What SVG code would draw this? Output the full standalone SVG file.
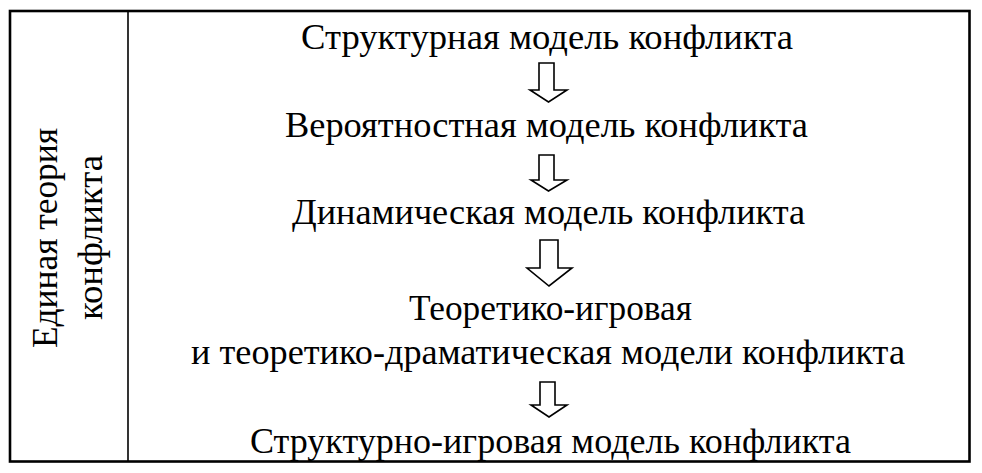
<svg xmlns="http://www.w3.org/2000/svg" width="982" height="473" viewBox="0 0 982 473" font-family="Liberation Serif, serif">
<defs>
  <path id="arrow-small" d="M0,0 H15 V27 H28 L9.5,39 L-9,27 H0 Z"/>
</defs>
<rect width="982" height="473" fill="#fff"/>
<g id="frame" fill="none" stroke="#000">
  <rect x="10" y="11" width="959.5" height="450.5" stroke-width="2.6"/>
  <line x1="128" y1="11" x2="128" y2="461.5" stroke-width="1.6"/>
</g>
<g id="side-label">
  <text style="font-family:'Liberation Serif',serif" font-size="36" x="0" y="0" textLength="220" lengthAdjust="spacingAndGlyphs" transform="translate(57,348) rotate(-90)">Единая теория</text>
  <text style="font-family:'Liberation Serif',serif" font-size="36" x="0" y="0" textLength="165" lengthAdjust="spacingAndGlyphs" transform="translate(102,320) rotate(-90)">конфликта</text>
</g>
<g id="node1"><text style="font-family:'Liberation Serif',serif" font-size="36" x="301" y="49" textLength="492" lengthAdjust="spacingAndGlyphs">Структурная модель конфликта</text></g>
<g id="node2"><text style="font-family:'Liberation Serif',serif" font-size="36" x="285" y="137" textLength="523" lengthAdjust="spacingAndGlyphs">Вероятностная модель конфликта</text></g>
<g id="node3"><text style="font-family:'Liberation Serif',serif" font-size="36" x="292" y="224" textLength="513" lengthAdjust="spacingAndGlyphs">Динамическая модель конфликта</text></g>
<g id="node4">
  <text style="font-family:'Liberation Serif',serif" font-size="36" x="409" y="320" textLength="283" lengthAdjust="spacingAndGlyphs">Теоретико-игровая</text>
  <text style="font-family:'Liberation Serif',serif" font-size="36" x="191" y="364" textLength="714" lengthAdjust="spacingAndGlyphs">и теоретико-драматическая модели конфликта</text>
</g>
<g id="node5"><text style="font-family:'Liberation Serif',serif" font-size="36" x="250" y="453" textLength="601" lengthAdjust="spacingAndGlyphs">Структурно-игровая модель конфликта</text></g>
<g id="connectors" fill="#fff" stroke="#000" stroke-width="1.6" stroke-linejoin="miter">
  <use href="#arrow-small" x="539" y="63"/>
  <path d="M539,155 H554 V180 H567 L548.5,191 L531,180 H539 Z"/>
  <path d="M540,240 H558 V268 H572 L549,286 L527,268 H540 Z"/>
  <path d="M540,382 H555 V405 H567 L549,417 L531,405 H540 Z"/>
</g>
</svg>
